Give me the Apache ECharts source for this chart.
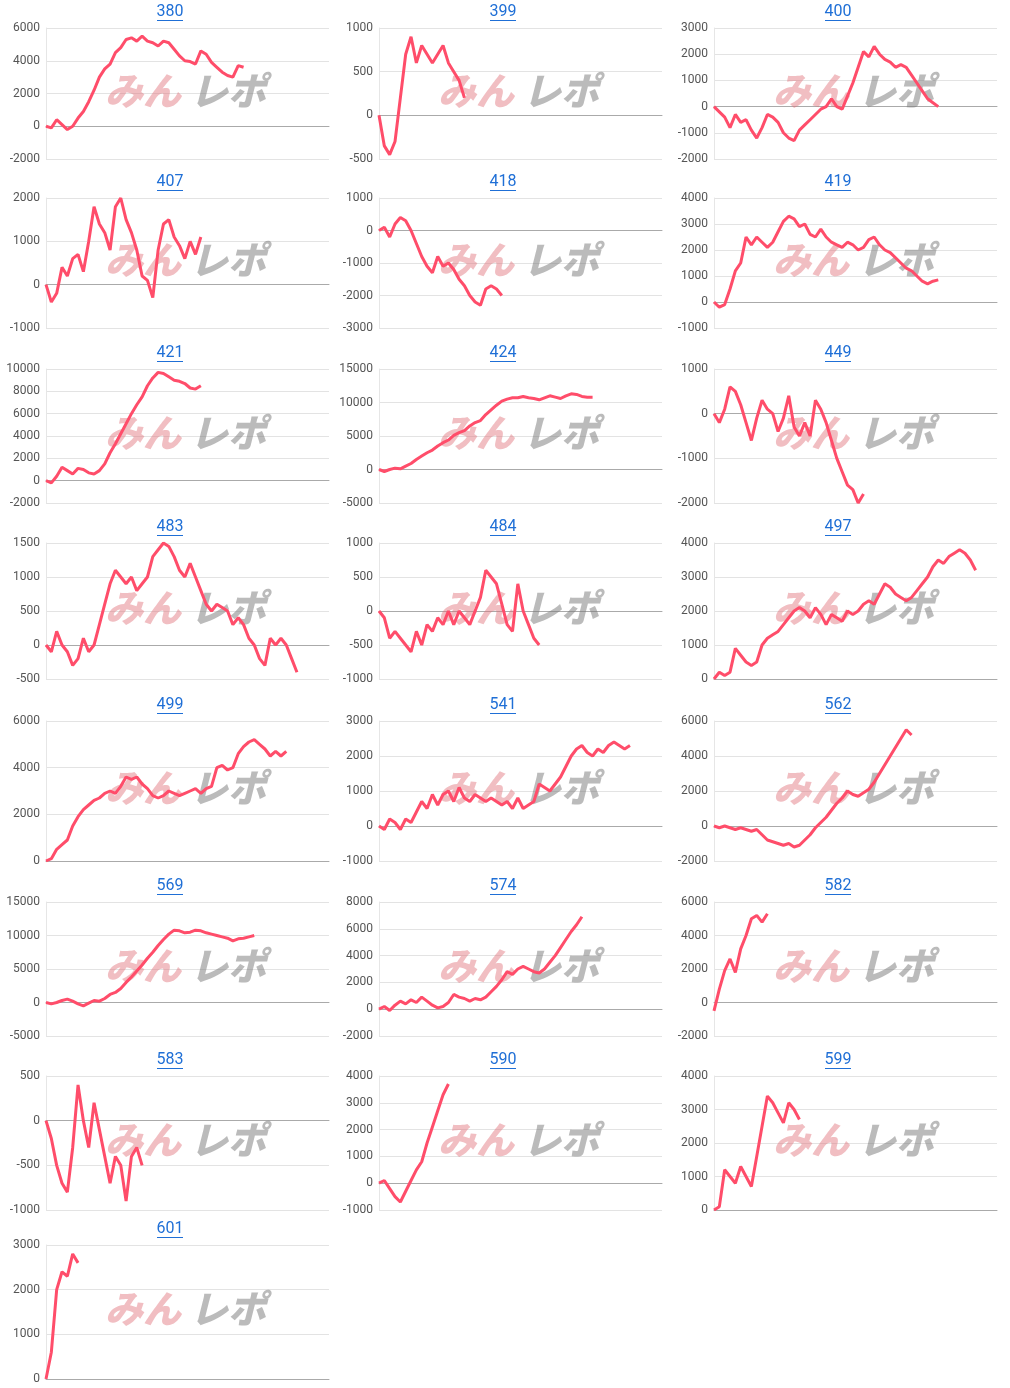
<!DOCTYPE html>
<html><head><meta charset="utf-8">
<script src="https://cdn.jsdelivr.net/npm/echarts@6/dist/echarts.min.js"></script>
<style>html,body{margin:0;background:#fff}#c{width:1010px;height:1388px}</style>
</head><body><div id="c"></div>
<script>
// 台番号ごとの差枚グラフ
const machines = ["380","399","400","407","418","419","421","424","449","483","484","497","499","541","562","569","574","582","583","590","599","601"];
const yMin = [-2000,-500,-2000,-1000,-3000,-1000,-2000,-5000,-2000,-500,-1000,0,0,-1000,-2000,-5000,-2000,-2000,-1000,-1000,0,0];
const yMax = [6000,1000,3000,2000,1000,4000,10000,15000,1000,1500,1000,4000,6000,3000,6000,15000,8000,6000,500,4000,4000,3000];
const yStep = [2000,500,1000,1000,1000,1000,2000,5000,1000,500,500,1000,2000,1000,2000,5000,2000,2000,500,1000,1000,1000];
const SLOTS = 54;

const s380 = [0,-100,400,100,-200,0,500,900,1500,2200,3000,3500,3800,4500,4800,5300,5400,5200,5500,5200,5100,4900,5200,5100,4700,4300,4000,3950,3800,4600,4400,3900,3600,3300,3100,3000,3700,3600];
const s399 = [0,-350,-450,-300,200,700,900,600,800,700,600,700,800,600,500,400,200];
const s400 = [0,-200,-400,-800,-300,-600,-500,-900,-1200,-800,-300,-400,-600,-1000,-1200,-1300,-900,-700,-500,-300,-100,0,300,0,-100,400,900,1500,2100,1900,2300,2000,1800,1700,1500,1600,1500,1200,900,600,300,150,0];
const s407 = [0,-400,-200,400,200,600,700,300,1000,1800,1400,1200,800,1800,2000,1500,1200,800,200,100,-300,800,1400,1500,1100,900,600,1000,700,1100];
const s418 = [0,100,-200,200,400,300,0,-400,-800,-1100,-1300,-800,-1100,-1000,-1200,-1500,-1700,-2000,-2200,-2300,-1800,-1700,-1800,-2000];
const s419 = [0,-200,-100,500,1200,1500,2500,2200,2500,2300,2100,2300,2700,3100,3300,3200,2900,3000,2600,2500,2800,2500,2300,2200,2100,2300,2200,2000,2100,2400,2500,2200,2000,1900,1700,1500,1300,1200,1000,800,700,800,850];
const s421 = [0,-200,400,1200,900,600,1100,1000,700,600,900,1500,2500,3300,4200,5100,6000,6800,7500,8500,9200,9700,9600,9300,9000,8900,8700,8300,8200,8500];
const s424 = [0,-300,0,200,100,500,900,1500,2000,2500,2900,3500,4000,4400,5100,5500,5800,6500,7000,7300,8200,8900,9600,10200,10500,10700,10700,10900,10700,10600,10400,10700,11000,10800,10600,11000,11300,11200,10900,10800,10800];
const s449 = [0,-200,100,600,500,200,-200,-600,-100,300,100,0,-400,-100,400,-300,-500,-200,-500,300,100,-200,-600,-1000,-1300,-1600,-1700,-2000,-1800];
const s483 = [0,-100,200,0,-100,-300,-200,100,-100,0,300,600,900,1100,1000,900,1000,800,900,1000,1300,1400,1500,1450,1300,1100,1000,1200,1000,800,600,500,600,550,500,300,400,300,100,0,-200,-300,100,0,100,0,-200,-400];
const s484 = [0,-100,-400,-300,-400,-500,-600,-300,-500,-200,-300,-100,-200,0,-200,0,-100,-200,0,200,600,500,400,100,-200,-300,400,0,-200,-400,-500];
const s497 = [0,200,100,200,900,700,500,400,500,1000,1200,1300,1400,1600,1800,2000,2100,2000,1800,2100,1900,1600,1900,1800,1700,2000,1900,2000,2200,2300,2200,2500,2800,2700,2500,2400,2300,2400,2600,2800,3000,3300,3500,3400,3600,3700,3800,3700,3500,3200];
const s499 = [0,100,500,700,900,1500,1900,2200,2400,2600,2700,2900,3000,2900,3200,3600,3500,3600,3300,3100,2800,2700,2800,3000,2900,2800,2900,3000,3100,2900,3100,3200,4000,4100,3900,4000,4600,4900,5100,5200,5000,4800,4500,4700,4500,4700];
const s541 = [0,-100,200,100,-100,200,100,400,700,500,900,600,900,1000,700,1100,800,700,900,800,700,800,700,600,700,500,800,500,600,700,1200,1100,1000,1200,1400,1700,2000,2200,2300,2100,2000,2200,2100,2300,2400,2300,2200,2300];
const s562 = [0,-100,0,-100,-200,-100,-200,-300,-200,-500,-800,-900,-1000,-1100,-1000,-1200,-1100,-800,-500,-100,200,500,900,1300,1600,2000,1800,1700,1900,2100,2500,3000,3500,4000,4500,5000,5500,5200];
const s569 = [0,-200,0,300,500,200,-200,-500,-100,300,200,600,1200,1500,2100,3000,3800,4700,5600,6600,7500,8500,9400,10200,10800,10700,10400,10500,10800,10700,10400,10200,10000,9800,9600,9200,9500,9600,9800,10000];
const s574 = [0,200,-100,300,600,400,700,500,900,600,300,100,200,500,1100,900,800,600,800,700,900,1300,1700,2200,2800,2600,3000,3200,3000,2800,2700,3000,3500,4000,4600,5200,5800,6300,6900];
const s582 = [-500,800,1900,2600,1800,3200,4000,5000,5200,4800,5300];
const s583 = [0,-200,-500,-700,-800,-300,400,0,-300,200,-100,-400,-700,-400,-500,-900,-400,-300,-500];
const s590 = [0,100,-200,-500,-700,-300,100,500,800,1500,2100,2700,3300,3700];
const s599 = [0,100,1200,1000,800,1300,1000,700,1600,2500,3400,3200,2900,2600,3200,3000,2700];
const s601 = [0,600,2000,2400,2300,2800,2600];
const seriesData = [s380,s399,s400,s407,s418,s419,s421,s424,s449,s483,s484,s497,s499,s541,s562,s569,s574,s582,s583,s590,s599,s601];

const colX = [0, 333, 668];
const rowY = [10, 180, 351, 525, 703, 884, 1058, 1227];
const rowH = [131, 130, 134, 136, 140, 134, 134, 134];

const grid = [], xAxis = [], yAxis = [], series = [], graphic = [];
const cats = Array.from({length: SLOTS}, (_, i) => i);

machines.forEach((m, i) => {
  const c = i % 3, r = Math.floor(i / 3);
  const left = colX[c] + 46, top = rowY[r] + 18;
  grid.push({left, top, width: 283, height: rowH[r]});
  xAxis.push({
    type: "category", gridIndex: i, data: cats, boundaryGap: false,
    axisLabel: {show: false}, axisTick: {show: false},
    axisLine: {onZero: true, lineStyle: {color: "#aaa"}}
  });
  yAxis.push({
    type: "value", gridIndex: i, min: yMin[i], max: yMax[i], interval: yStep[i],
    axisLine: {show: true, lineStyle: {color: "#e6e6e6"}},
    axisLabel: {color: "#555", fontSize: 12, fontFamily: "Roboto", margin: 6, formatter: v => String(v)},
    splitLine: {lineStyle: {color: "#e3e3e3"}}
  });
  series.push({
    type: "line", xAxisIndex: i, yAxisIndex: i, data: seriesData[i],
    showSymbol: false, smooth: false,
    lineStyle: {color: "#ff4d6a", width: 3}, itemStyle: {color: "#ff4d6a"}, z: 3
  });
  const cx = colX[c] + 170;
  graphic.push({type: "text", x: cx, y: rowY[r] + 2, z: 5,
    style: {text: m, fill: "#1f6fd6", font: "16px Roboto", textAlign: "center", textVerticalAlign: "middle"}});
  graphic.push({type: "rect", shape: {x: cx - 13, y: rowY[r] + 10, width: 26, height: 1}, style: {fill: "#1f6fd6"}});
  const wy = top + rowH[r] / 2 - 22;
  graphic.push({type: "text", x: colX[c] + 105, y: wy, z: 1,
    style: {text: "みん", fill: "rgba(225,110,120,0.45)", font: "italic 900 38px 'Noto Sans CJK JP'"}});
  graphic.push({type: "text", x: colX[c] + 190, y: wy, z: 1,
    style: {text: "レポ", fill: "rgba(120,120,120,0.5)", font: "italic 900 38px 'Noto Sans CJK JP'"}});
});

const chart = echarts.init(document.getElementById("c"));
chart.setOption({animation: false, grid, xAxis, yAxis, series, graphic});
</script></body></html>
